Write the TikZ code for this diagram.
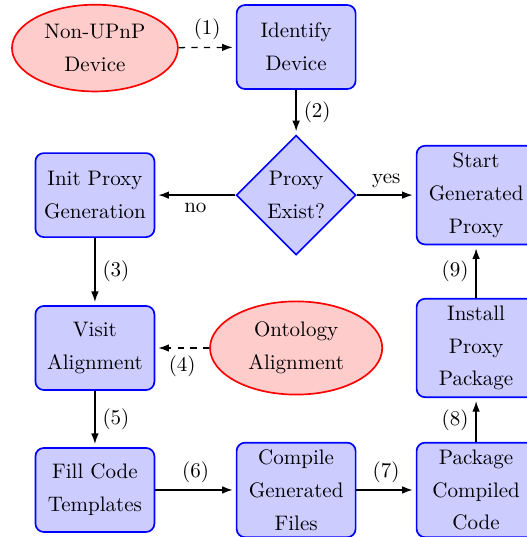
\documentclass[tikz,border=0pt]{standalone}
\usepackage{xcolor}
\usepackage{tikz}
\usetikzlibrary{positioning, arrows.meta, shapes.geometric}
\definecolor{stepfill}{HTML}{CCCCFF}
\definecolor{sourcefill}{HTML}{FFCCCC}

\tikzset{
  block/.style={rectangle, draw=blue, fill=stepfill, thick, rounded corners,
                text width=5em, align=center, minimum height=4em,
                font=\fontsize{10}{15.6}\selectfont},
  decision/.style={diamond, draw=blue, fill=stepfill, thick, text width=3em,
                   align=center, inner sep=0pt, minimum width=57pt, minimum height=57pt,
                   font=\fontsize{10}{15.6}\selectfont},
  source/.style={ellipse, draw=red, fill=sourcefill, thick, align=center,
                 minimum width=79pt, font=\fontsize{10}{15.6}\selectfont},
  flow/.style={draw, semithick, shorten >=1.5pt, -{Latex[length=5pt, width=3.6pt]}},
}

\begin{document}
\begin{tikzpicture}
  \useasboundingbox (0pt,0pt) rectangle (250.5pt,-255.7pt);
  % first row
  \node[source] (device) at (45.2pt,-22.9pt) {Non-UPnP\\Device};
  \node[block] (identify) at (141pt,-22.4pt) {Identify Device};
  % decision row
  \node[block] (init) at (45.2pt,-92.9pt) {Init Proxy Generation};
  \node[decision] (exists) at (141pt,-92.9pt) {Proxy Exist?};
  \node[block] (start) at (226.7pt,-92.9pt) {Start Generated Proxy};
  % alignment row
  \node[block] (visit) at (45.2pt,-165.7pt) {Visit Alignment};
  \node[source, minimum width=82pt] (ontology) at (141pt,-165.7pt) {Ontology\\Alignment};
  \node[block] (install) at (226.7pt,-165.7pt) {Install Proxy Package};
  % last row
  \node[block] (fill) at (45.2pt,-233.3pt) {Fill Code Templates};
  \node[block] (compile) at (141pt,-233.3pt) {Compile Generated Files};
  \node[block] (package) at (226.7pt,-233.3pt) {Package Compiled Code};

  \draw[flow, dashed] (device) -- node[above] {(1)} (identify);
  \draw[flow] (identify) -- node[right] {(2)} (exists);
  \draw[flow] (exists) -- node[below] {no} (init);
  \draw[flow] (exists) -- node[above] {yes} (start);
  \draw[flow] (init) -- node[right] {(3)} (visit);
  \draw[flow, dashed] (ontology) -- node[below] {(4)} (visit);
  \draw[flow] (visit) -- node[right] {(5)} (fill);
  \draw[flow] (fill) -- node[above] {(6)} (compile);
  \draw[flow] (compile) -- node[above] {(7)} (package);
  \draw[flow] (package) -- node[left] {(8)} (install);
  \draw[flow] (install) -- node[left] {(9)} (start);
\end{tikzpicture}
\end{document}
